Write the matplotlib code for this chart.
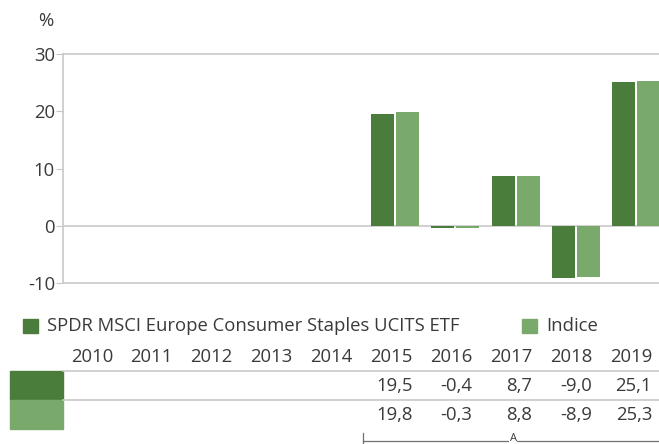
import matplotlib
matplotlib.use("Agg")
import matplotlib.pyplot as plt
from matplotlib.lines import Line2D
from matplotlib.patches import Rectangle
import numpy as np

years = ["2010", "2011", "2012", "2013", "2014", "2015", "2016", "2017", "2018", "2019"]
fund = [None, None, None, None, None, 19.5, -0.4, 8.7, -9.0, 25.1]
index = [None, None, None, None, None, 19.8, -0.3, 8.8, -8.9, 25.3]
fund_label = "SPDR MSCI Europe Consumer Staples UCITS ETF"
index_label = "Indice"
yticks = [-10, 0, 10, 20, 30]

DARK = "#4A7C3B"
LIGHT = "#7AAA6B"
GRID = "#C8C8C8"
TXT = "#3A3A3A"
FONT = "Open Sans"
FS = 13.3

W, H = 659, 444
fig = plt.figure(figsize=(W / 100, H / 100), dpi=100)
plt.rcParams['font.family'] = [FONT, 'DejaVu Sans']

def fx(px):
    return px / W

def fy(py):
    return 1 - py / H

ax = fig.add_axes([fx(63.35), fy(283.4), fx(603), (283.4 - 54) / H])
x = np.arange(len(years))
fv = np.array([np.nan if v is None else v for v in fund])
iv = np.array([np.nan if v is None else v for v in index])
bw = 23 / 60.3
off = 12.5 / 60.3
ax.bar(x - off, fv, width=bw, color=DARK, zorder=3)
ax.bar(x + off, iv, width=bw, color=LIGHT, zorder=3)
ax.set_xlim(-0.5, len(years) - 0.5)
ax.set_ylim(-10, 30)
ax.set_yticks(yticks)
ax.set_yticklabels([str(t) for t in yticks], fontsize=FS, color=TXT)
ax.set_xticks([])
ax.axhline(0, color=GRID, lw=1.2, zorder=2)
ax.spines["right"].set_visible(False)
for s in ["left", "bottom", "top"]:
    ax.spines[s].set_color(GRID)
    ax.spines[s].set_linewidth(1.2)
ax.tick_params(axis="y", length=5, color=GRID, pad=1)
fig.text(fx(46), fy(21), "%", fontsize=FS, color=TXT, ha="center", va="center")

# legend
fig.add_artist(Rectangle((fx(23), fy(333)), fx(15), 14 / H, color=DARK, transform=fig.transFigure))
fig.text(fx(47), fy(326), fund_label, fontsize=FS, color=TXT, va="center", ha="left")
fig.add_artist(Rectangle((fx(522), fy(333)), fx(15), 14 / H, color=LIGHT, transform=fig.transFigure))
fig.text(fx(546), fy(326), index_label, fontsize=FS, color=TXT, va="center", ha="left")

# table
col_right = [113 + i * 59.9 for i in range(len(years))]
for xr, yl in zip(col_right, years):
    fig.text(fx(xr), fy(357), yl, fontsize=FS, color=TXT, ha="right", va="center")
for xr, v in zip(col_right, fund):
    if v is not None:
        fig.text(fx(xr), fy(386), f"{v:.1f}".replace(".", ","), fontsize=FS, color=TXT, ha="right", va="center")
for xr, v in zip(col_right, index):
    if v is not None:
        fig.text(fx(xr), fy(415), f"{v:.1f}".replace(".", ","), fontsize=FS, color=TXT, ha="right", va="center")
for yy in [371, 400]:
    fig.add_artist(Line2D([fx(63), 1], [fy(yy), fy(yy)], color=GRID, lw=1.2, transform=fig.transFigure))
fig.add_artist(Rectangle((fx(10), fy(400)), fx(53), 29 / H, color=DARK, transform=fig.transFigure))
fig.add_artist(Rectangle((fx(10), fy(429)), fx(53), 29 / H, color=LIGHT, transform=fig.transFigure))

# bracket
fig.add_artist(Line2D([fx(363), 1], [fy(441), fy(441)], color="#707070", lw=0.9, transform=fig.transFigure))
fig.add_artist(Line2D([fx(363), fx(363)], [fy(433), fy(444)], color="#707070", lw=0.9, transform=fig.transFigure))
fig.text(fx(513), fy(443.5), "A", fontsize=8, color=TXT, ha="center", va="bottom",
         bbox=dict(facecolor="white", edgecolor="none", pad=0.5))

fig.savefig("out.png", dpi=100)
